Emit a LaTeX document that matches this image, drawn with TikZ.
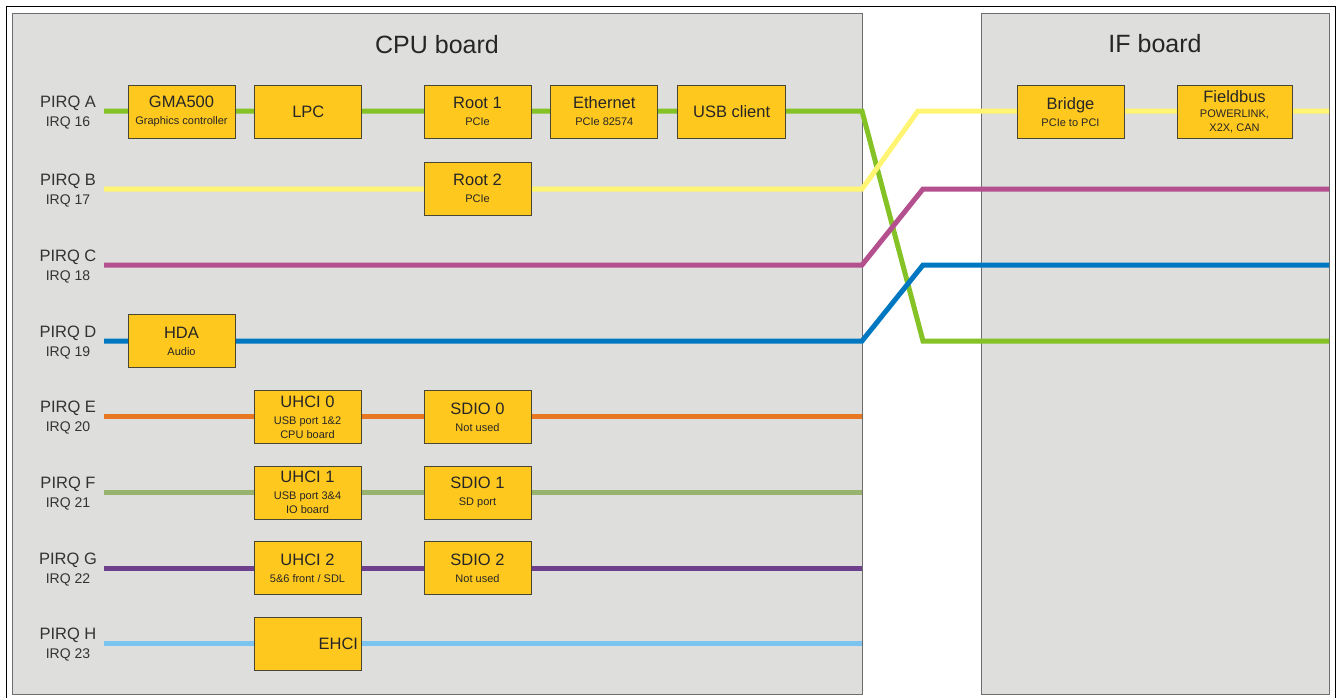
\documentclass[tikz,border=0pt]{standalone}
\usepackage{fontspec}
\setmainfont{Liberation Sans}
\usetikzlibrary{positioning}
\definecolor{boardgray}{HTML}{DEDEDC}
\definecolor{boardedge}{HTML}{6E6E6E}
\definecolor{unitfill}{HTML}{FFC81E}
\definecolor{unitedge}{HTML}{4A4636}
\definecolor{labeltext}{HTML}{333333}
\definecolor{busA}{HTML}{84C225}
\definecolor{busB}{HTML}{FFF573}
\definecolor{busC}{HTML}{B5508F}
\definecolor{busD}{HTML}{0078C1}
\definecolor{busE}{HTML}{E87722}
\definecolor{busF}{HTML}{98B36E}
\definecolor{busG}{HTML}{6E3F8C}
\definecolor{busH}{HTML}{7CC4F0}
\newcommand{\unittitle}{\fontsize{16.5}{17}\selectfont}
\newcommand{\unitsub}{\fontsize{11}{15.5}\selectfont}

\begin{document}
\begin{tikzpicture}[x=1pt,y=-1pt]
  \tikzset{
    board/.style={draw=boardedge,fill=boardgray,line width=1pt},
    unit/.style={draw=unitedge,fill=unitfill,line width=0.8pt,minimum width=107pt,
                 minimum height=53pt,inner sep=2pt,align=center,text=black!85,
                 font=\unittitle},
    bus/.style={line width=5pt},
    pirq/.style={font=\fontsize{16.5}{18}\selectfont,text=labeltext},
    irq/.style={font=\fontsize{14}{16}\selectfont,text=labeltext},
    title/.style={font=\fontsize{25}{28}\selectfont,text=black!85},
  }
  \useasboundingbox (0,0) rectangle (1338,697);
  \draw[black,line width=0.8pt] (6,6) rectangle (1335,720);
  % ---- boards ----
  \draw[board] (12,13) rectangle (862,694);
  \draw[board] (981,13) rectangle (1329,694);
  \node[title] (cputitle) at (437,45) {CPU board};
  \node[title] (iftitle) at (1155,44) {IF board};
  % ---- interrupt lines ----
  \foreach \r/\y/\n in {A/111/16,B/189/17,C/265/18,D/341/19,E/416/20,F/492/21,G/568/22,H/643/23} {
    \node[pirq] (pirq\r) at (68,\y-8) {PIRQ \r};
    \node[irq] (irq\r) at (68,\y+12) {IRQ \n};
    \coordinate (in\r) at (104,\y);
    \coordinate (edge\r) at (862,\y);
  }
  \coordinate (turnA) at (923,341); \coordinate (outA) at (1329,341);
  \coordinate (turnB) at (918,111); \coordinate (outB) at (1329,111);
  \coordinate (turnC) at (923,189); \coordinate (outC) at (1329,189);
  \coordinate (turnD) at (923,265); \coordinate (outD) at (1329,265);
  \foreach \r in {A,B,C,D}
    \draw[bus,bus\r] (in\r) -- (edge\r) -- (turn\r) -- (out\r);
  \foreach \r in {E,F,G,H}
    \draw[bus,bus\r] (in\r) -- (edge\r);
  % ---- CPU board units ----
  \node[unit] (gma) at (181.5,111.5) {GMA500\\\unitsub Graphics controller};
  \node[unit,right=19pt of gma] (lpc) {LPC};
  \node[unit] (root1) at (477.5,111.5) {Root 1\\\unitsub PCIe};
  \node[unit,right=19pt of root1] (eth) {Ethernet\\\unitsub PCIe 82574};
  \node[unit,right=19pt of eth,minimum width=108pt] (usbc) {USB client};
  \node[unit] (root2) at (477.5,188.5) {Root 2\\\unitsub PCIe};
  \node[unit] (hda) at (181.5,341) {HDA\\\unitsub Audio};
  \node[unit] (uhci0) at (307.5,417) {UHCI 0\\\unitsub USB port 1\&2\\[-3pt]\unitsub CPU board};
  \node[unit] (sdio0) at (477.5,417) {SDIO 0\\\unitsub Not used};
  \node[unit] (uhci1) at (307.5,492.5) {UHCI 1\\\unitsub USB port 3\&4\\[-3pt]\unitsub IO board};
  \node[unit] (sdio1) at (477.5,492.5) {SDIO 1\\\unitsub SD port};
  \node[unit] (uhci2) at (307.5,568) {UHCI 2\\\unitsub 5\&6 front / SDL};
  \node[unit] (sdio2) at (477.5,568) {SDIO 2\\\unitsub Not used};
  \node[unit,text width=101pt,align=right] (ehci) at (307.5,643.5) {EHCI};
  % ---- IF board units ----
  \node[unit] (bridge) at (1070.5,112) {Bridge\\\unitsub PCIe to PCI};
  \node[unit,minimum width=115pt] (fbus) at (1234.5,112)
       {Fieldbus\\[-2pt]\unitsub POWERLINK,\\[-3pt]\unitsub X2X, CAN};
\end{tikzpicture}
\end{document}
